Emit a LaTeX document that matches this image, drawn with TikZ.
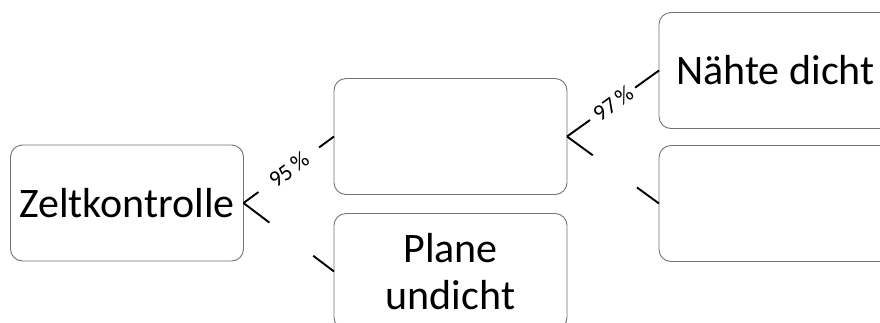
\documentclass[tikz,border=0pt]{standalone}
\usepackage{fontspec}
\setmainfont{Carlito}
\usetikzlibrary{calc}
\tikzset{
  box/.style={draw=black!55, line width=0.9pt, rounded corners=12pt, fill=white,
    minimum width=233pt, minimum height=116pt, inner sep=0pt, outer sep=0pt,
    font=\fontsize{42}{47}\selectfont, align=center},
  conn/.style={draw=black, line width=1.9pt},
  lbl/.style={font=\fontsize{23}{25}\selectfont, inner sep=0pt, sloped}
}
\begin{document}
\begin{tikzpicture}[x=1pt,y=-1pt]
\useasboundingbox (0,0) rectangle (880,322);
\node[box] (z) at (127,203) {Zeltkontrolle};
\node[box] (m) at (450.5,136.5) {};
\node[box] (p) at (450.5,271.5) {Plane\\undicht};
\node[box] (n) at (775.5,70.5) {Nähte dicht};
\node[box] (e) at (775.5,203.5) {};
% Zeltkontrolle -> m
\draw[conn] (z.east) -- ($(z.east)!0.165!(m.west)$);
\draw[conn] ($(z.east)!0.835!(m.west)$) -- (m.west);
\path (z.east) -- (m.west) node[midway, lbl] {95\,\%};
% Zeltkontrolle -> p
\draw[conn] (z.east) -- ($(z.east)!0.286!(p.west)$);
\draw[conn] ($(z.east)!0.77!(p.west)$) -- (p.west);
% m -> n
\draw[conn] (m.east) -- ($(m.east)!0.25!(n.west)$);
\draw[conn] ($(m.east)!0.74!(n.west)$) -- (n.west);
\path (m.east) -- (n.west) node[midway, lbl] {97\,\%};
% m -> e
\draw[conn] (m.east) -- ($(m.east)!0.28!(e.west)$);
\draw[conn] ($(m.east)!0.76!(e.west)$) -- (e.west);
\end{tikzpicture}
\end{document}
